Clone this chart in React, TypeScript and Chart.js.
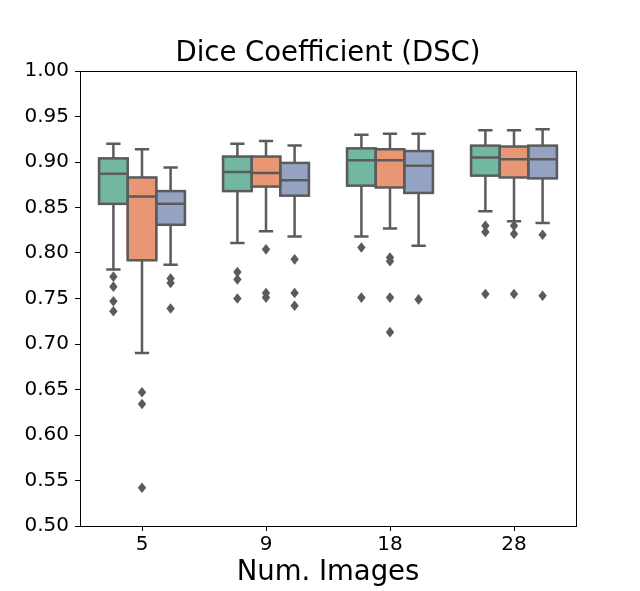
import React, { useEffect, useRef } from 'react';
import { Chart, ChartOptions, Plugin, registerables } from 'chart.js';

Chart.register(...registerables);

// x categories
const numImages = ['5', '9', '18', '28'];

// y ticks
const yMin = 0.5;
const yMax = 1.0;
const yStep = 0.05;

// green series
const greenLow = [0.782, 0.811, 0.818, 0.846];
const greenQ1 = [0.854, 0.868, 0.874, 0.885];
const greenMedian = [0.887, 0.889, 0.902, 0.905];
const greenQ3 = [0.904, 0.906, 0.915, 0.918];
const greenHigh = [0.92, 0.92, 0.93, 0.935];
const greenOutliers = [
  [0.774, 0.763, 0.747, 0.736],
  [0.779, 0.771, 0.75],
  [0.806, 0.751],
  [0.83, 0.823, 0.755],
];

// orange series
const orangeLow = [0.69, 0.824, 0.827, 0.835];
const orangeQ1 = [0.792, 0.873, 0.872, 0.883];
const orangeMedian = [0.862, 0.888, 0.902, 0.903];
const orangeQ3 = [0.883, 0.906, 0.914, 0.917];
const orangeHigh = [0.914, 0.923, 0.931, 0.935];
const orangeOutliers = [
  [0.647, 0.634, 0.542],
  [0.804, 0.756, 0.751],
  [0.795, 0.791, 0.751, 0.713],
  [0.83, 0.821, 0.755],
];

// blue series
const blueLow = [0.787, 0.818, 0.808, 0.833];
const blueQ1 = [0.831, 0.863, 0.866, 0.882];
const blueMedian = [0.854, 0.88, 0.896, 0.903];
const blueQ3 = [0.868, 0.899, 0.912, 0.918];
const blueHigh = [0.894, 0.918, 0.931, 0.936];
const blueOutliers = [[0.772, 0.767, 0.739], [0.793, 0.756, 0.742], [0.749], [0.82, 0.753]];

const FONT = "'DejaVu Sans', sans-serif";
const LINE = '#5b5b5b';
const LW = 2.5;

const series = [
  { color: '#72b7a1', low: greenLow, q1: greenQ1, med: greenMedian, q3: greenQ3, high: greenHigh, out: greenOutliers },
  { color: '#e99675', low: orangeLow, q1: orangeQ1, med: orangeMedian, q3: orangeQ3, high: orangeHigh, out: orangeOutliers },
  { color: '#95a3c3', low: blueLow, q1: blueQ1, med: blueMedian, q3: blueQ3, high: blueHigh, out: blueOutliers },
];

// whiskers, medians, box outlines and fliers, placed with the chart's own scales
const boxPlugin: Plugin<'bar'> = {
  id: 'boxWhiskers',
  afterDatasetsDraw(chart) {
    const { ctx } = chart;
    const y = chart.scales.y;
    ctx.save();
    ctx.strokeStyle = LINE;
    ctx.fillStyle = LINE;
    ctx.lineWidth = LW;
    series.forEach((s, d) => {
      const meta = chart.getDatasetMeta(d);
      meta.data.forEach((bar: any, i: number) => {
        const { x, width } = bar.getProps(['x', 'width'], true);
        const w = width - LW;
        const yq1 = y.getPixelForValue(s.q1[i]);
        const yq3 = y.getPixelForValue(s.q3[i]);
        const yMed = y.getPixelForValue(s.med[i]);
        const yLow = y.getPixelForValue(s.low[i]);
        const yHigh = y.getPixelForValue(s.high[i]);
        const cap = w / 4;

        ctx.beginPath();
        // whiskers
        ctx.moveTo(x, yq3);
        ctx.lineTo(x, yHigh);
        ctx.moveTo(x - cap, yHigh);
        ctx.lineTo(x + cap, yHigh);
        ctx.moveTo(x, yq1);
        ctx.lineTo(x, yLow);
        ctx.moveTo(x - cap, yLow);
        ctx.lineTo(x + cap, yLow);
        // median
        ctx.moveTo(x - w / 2, yMed);
        ctx.lineTo(x + w / 2, yMed);
        ctx.stroke();
        ctx.strokeRect(x - w / 2, yq3, w, yq1 - yq3);

        // fliers
        s.out[i].forEach((v) => {
          const py = y.getPixelForValue(v);
          ctx.beginPath();
          ctx.moveTo(x, py - 5.3);
          ctx.lineTo(x + 4.2, py);
          ctx.lineTo(x, py + 5.3);
          ctx.lineTo(x - 4.2, py);
          ctx.closePath();
          ctx.fill();
        });
      });
    });
    ctx.restore();
  },
  afterDraw(chart) {
    const { ctx, chartArea } = chart;
    ctx.save();
    ctx.strokeStyle = '#000';
    ctx.lineWidth = 1;
    ctx.strokeRect(
      Math.round(chartArea.left) + 0.5,
      Math.round(chartArea.top) + 0.5,
      Math.round(chartArea.right - chartArea.left),
      Math.round(chartArea.bottom - chartArea.top)
    );
    ctx.restore();
  },
};

export default function App() {
  const canvasRef = useRef<HTMLCanvasElement>(null);
  const chartRef = useRef<Chart | null>(null);

  useEffect(() => {
    if (!canvasRef.current) return;

    const options: ChartOptions<'bar'> = {
      responsive: true,
      maintainAspectRatio: false,
      animation: false,
      events: [],
      layout: { padding: { left: 16, right: 0, top: 0, bottom: 0 } },
      plugins: {
        legend: { display: false },
        tooltip: { enabled: false },
        title: {
          display: true,
          text: 'Dice Coefficient (DSC)',
          color: '#000',
          font: { family: FONT, size: 27.5, weight: 'normal', lineHeight: 1.2 },
          padding: { top: 37, bottom: 1 },
        },
      },
      scales: {
        x: {
          type: 'category',
          offset: true,
          grid: {
            display: true,
            drawOnChartArea: false,
            drawTicks: true,
            tickLength: 5,
            offset: false,
            color: '#000',
          },
          border: { display: true, color: '#000', width: 1 },
          ticks: { color: '#000', font: { family: FONT, size: 20 }, padding: 2 },
          title: {
            display: true,
            text: 'Num. Images',
            color: '#000',
            font: { family: FONT, size: 27.5, lineHeight: 1.2 },
            padding: { top: 0, bottom: 2 },
          },
          afterFit: (scale) => {
            scale.height = 65;
          },
        },
        y: {
          type: 'linear',
          min: yMin,
          max: yMax,
          grid: { display: true, drawOnChartArea: false, drawTicks: true, tickLength: 5, color: '#000' },
          border: { display: true, color: '#000', width: 1 },
          ticks: {
            stepSize: yStep,
            color: '#000',
            font: { family: FONT, size: 20 },
            padding: 6,
            callback: (v) => Number(v).toFixed(2),
          },
          afterFit: (scale) => {
            scale.width = 64;
          },
        },
        yRight: {
          type: 'linear',
          position: 'right',
          min: yMin,
          max: yMax,
          grid: { display: false },
          border: { display: false },
          ticks: { display: false },
          afterFit: (scale) => {
            scale.width = 64;
          },
        },
      },
    };

    chartRef.current = new Chart(canvasRef.current, {
      type: 'bar',
      data: {
        labels: numImages,
        datasets: series.map((s) => ({
          data: numImages.map((_, i) => [s.q1[i], s.q3[i]] as [number, number]),
          backgroundColor: s.color,
          borderWidth: 0,
          categoryPercentage: 0.692,
          barPercentage: 1.087,
        })),
      },
      options,
      plugins: [boxPlugin],
    });

    return () => {
      chartRef.current?.destroy();
      chartRef.current = null;
    };
  }, []);

  return (
    <div style={{ position: 'absolute', left: 0, top: 0, width: 640, height: 591, background: '#fff' }}>
      <canvas ref={canvasRef} />
    </div>
  );
}
